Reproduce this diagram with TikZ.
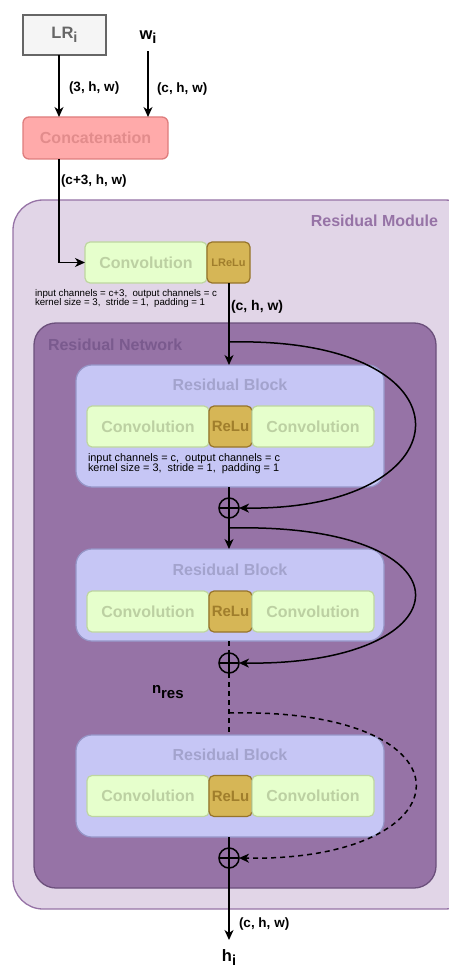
\documentclass[tikz,border=0pt]{standalone}
\usepackage{fontspec}
\setmainfont{Liberation Sans}
\usetikzlibrary{arrows.meta}

\definecolor{lrfill}{HTML}{F5F5F5}
\definecolor{lrline}{HTML}{666666}
\definecolor{catfill}{RGB}{255,170,170}
\definecolor{catline}{RGB}{222,125,125}
\definecolor{cattext}{RGB}{226,140,140}
\definecolor{modfill}{HTML}{E1D5E7}
\definecolor{modline}{HTML}{9673A6}
\definecolor{netfill}{HTML}{9673A6}
\definecolor{netline}{RGB}{108,80,124}
\definecolor{nettext}{RGB}{122,90,142}
\definecolor{blkfill}{RGB}{198,198,245}
\definecolor{blkline}{RGB}{150,150,200}
\definecolor{blktext}{RGB}{163,163,205}
\definecolor{convfill}{HTML}{E6FFCC}
\definecolor{convline}{RGB}{190,214,160}
\definecolor{convtext}{RGB}{188,208,162}
\definecolor{relufill}{HTML}{D6B656}
\definecolor{reluline}{RGB}{150,116,42}
\definecolor{relutext}{RGB}{160,126,44}

\newcommand{\fs}[1]{\fontsize{#1}{#1}\selectfont}

\begin{document}
\begin{tikzpicture}[x=1pt,y=-1pt,
  every node/.style={inner sep=0pt, outer sep=0pt},
  title/.style={font=\fs{16}\bfseries},
  lbl/.style={font=\fs{13.5}\bfseries, anchor=west},
  note/.style={align=left, anchor=north west},
  convbox/.style={draw=convline, fill=convfill, line width=1.2pt, rounded corners=5pt,
    minimum width=122pt, minimum height=41pt, text=convtext, font=\fs{16}\bfseries},
  relubox/.style={draw=reluline, fill=relufill, line width=1.2pt, rounded corners=5pt,
    minimum width=43pt, minimum height=41pt, text=relutext, font=\fs{15}\bfseries},
  blockbox/.style={draw=blkline, fill=blkfill, line width=1.2pt, rounded corners=16pt,
    minimum width=308pt},
  sumnode/.style={circle, draw, line width=1.5pt, minimum size=20pt,
    path picture={\draw[line width=1.5pt]
      (path picture bounding box.north) -- (path picture bounding box.south)
      (path picture bounding box.west) -- (path picture bounding box.east);}},
  wire/.style={line width=1.5pt},
  arr/.style={wire, -{Stealth[length=10pt,width=9pt,inset=3pt]}},
  dashwire/.style={dashed, dash pattern=on 5pt off 4pt},
]
\useasboundingbox (0,0) rectangle (449,968);

% containers
\node[draw=modline, fill=modfill, line width=1.3pt, rounded corners=30pt,
      minimum width=462pt, minimum height=709pt] (module) at (244,554.5) {};
\node[title, text=modline, anchor=east] (modtitle) at (438,221) {Residual Module};
\node[draw=netline, fill=netfill, line width=1.3pt, rounded corners=22pt,
      minimum width=402pt, minimum height=565pt] (net) at (235,605.5) {};
\node[title, text=nettext, anchor=west] (nettitle) at (48,345) {Residual Network};

% inputs
\node[draw=lrline, fill=lrfill, line width=1.3pt, minimum width=83pt, minimum height=40pt,
      text=lrline, font=\fs{16.5}\bfseries] (lr) at (64.5,35) {LR\raisebox{-4pt}{\fs{14.5}i}};
\node[font=\fs{16.5}\bfseries] (w) at (148,37) {w\raisebox{-4pt}{\fs{14.5}i}};
\node[draw=catline, fill=catfill, line width=1.3pt, rounded corners=6pt,
      minimum width=145pt, minimum height=42pt, text=cattext, font=\fs{16}\bfseries]
      (concat) at (95.5,138) {Concatenation};

% first convolution
\node[convbox] (conv0) at (146,262.5) {Convolution};
\node[relubox, font=\fs{11}\bfseries] (lrelu) at (228.5,262.5) {LReLu};
\node[note, font=\fs{9.7}] (note0) at (35,289.5)
  {input channels = c+3,\ \ output channels = c\\[-0.3pt]kernel size = 3,\ \ stride = 1,\ \ padding = 1};

% residual blocks
\node[blockbox, minimum height=122pt] (block1) at (230,426) {};
\node[title, text=blktext] (bt1) at (230,385) {Residual Block};
\node[convbox] (c1a) at (148,426.5) {Convolution};
\node[relubox] (r1) at (230.5,426.5) {ReLu};
\node[convbox] (c1b) at (313,426.5) {Convolution};
\node[note, font=\fs{10.9}] (note1) at (88,454)
  {input channels = c,\ \ output channels = c\\[-1pt]kernel size = 3,\ \ stride = 1,\ \ padding = 1};

\node[blockbox, minimum height=92pt] (block2) at (230,595) {};
\node[title, text=blktext] (bt2) at (230,570) {Residual Block};
\node[convbox] (c2a) at (148,611.5) {Convolution};
\node[relubox] (r2) at (230.5,611.5) {ReLu};
\node[convbox] (c2b) at (313,611.5) {Convolution};

\node[blockbox, minimum height=102pt] (block3) at (230,786) {};
\node[title, text=blktext] (bt3) at (230,755) {Residual Block};
\node[convbox] (c3a) at (148,796) {Convolution};
\node[relubox] (r3) at (230.5,796) {ReLu};
\node[convbox] (c3b) at (313,796) {Convolution};

% summation points
\node[sumnode] (sum1) at (229,508) {};
\node[sumnode] (sum2) at (229,663) {};
\node[sumnode] (sum3) at (229,858) {};

% helper coordinates
\coordinate (inx) at (59,0);
\coordinate (col) at (229,0);
\coordinate (tap1) at (229,342);
\coordinate (tap2) at (229,528);
\coordinate (tap3) at (229,713);
\coordinate (out) at (229,940);

% output label
\node[font=\fs{16.5}\bfseries] (h) at (229,958) {h\raisebox{-4pt}{\fs{14.5}i}};

% main data path
\draw[arr] (lr.south -| inx) -- (concat.north -| inx);
\draw[arr] (w.south) ++(0,8) -- (concat.north -| w);
\draw[arr] (concat.south -| inx) |- (conv0.west);
\draw[arr] (lrelu.south -| col) -- (block1.north -| col);
\draw[wire] (block1.south -| col) -- (sum1.north);
\draw[arr] (sum1.south) -- (block2.north -| col);
\draw[wire, dashwire] (block2.south -| col) -- (sum2.north);
\draw[wire, dashwire] (sum2.south) -- (block3.north -| col);
\draw[wire] (block3.south -| col) -- (sum3.north);
\draw[arr] (sum3.south) -- (out);

% skip connections
\draw[arr] (tap1) .. controls (480,336) and (470,511) .. (sum1.east);
\draw[arr] (tap2) .. controls (480,522) and (470,666) .. (sum2.east);
\draw[arr, dashwire] (tap3) .. controls (481,707) and (471,862) .. (sum3.east);

% tensor shape labels
\node[lbl] (s1) at (69,88) {(3, h, w)};
\node[lbl] (s2) at (157,89) {(c, h, w)};
\node[lbl] (s3) at (61,181) {(c+3, h, w)};
\node[lbl, font=\fs{14}\bfseries] (s4) at (231,307) {(c, h, w)};
\node[lbl] (s5) at (239,924) {(c, h, w)};
\node[font=\fs{15}\bfseries, anchor=west] (nres) at (152,692) {n\raisebox{-4.5pt}{\fs{15}res}};
\end{tikzpicture}
\end{document}
